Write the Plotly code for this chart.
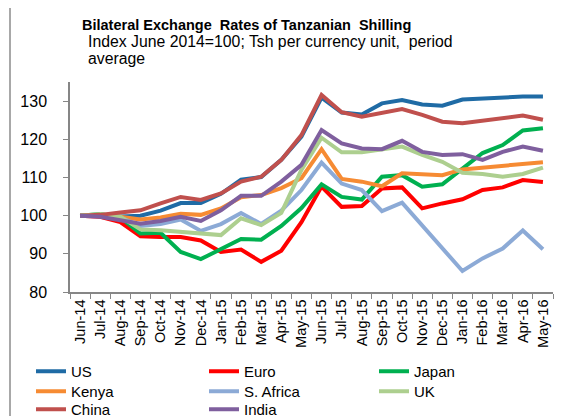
import plotly.graph_objects as go

months = ["Jun-14","Jul-14","Aug-14","Sep-14","Oct-14","Nov-14","Dec-14","Jan-15","Feb-15",
          "Mar-15","Apr-15","May-15","Jun-15","Jul-15","Aug-15","Sep-15","Oct-15","Nov-15",
          "Dec-15","Jan-16","Feb-16","Mar-16","Apr-16","May-16"]

us = [100, 99.9, 99.8, 100.0, 101.3, 103.3, 103.3, 105.7, 109.4, 110.1, 114.6, 120.7,
      130.9, 127.0, 126.5, 129.4, 130.3, 129.1, 128.8, 130.4, 130.7, 130.8, 131.2, 131.2]
euro = [100, 99.7, 98.3, 94.6, 94.4, 94.4, 93.5, 90.5, 91.1, 87.9, 90.8, 98.3,
        107.6, 102.3, 102.5, 107.1, 107.4, 101.9, 103.2, 104.3, 106.7, 107.4, 109.3, 108.8]
japan = [100, 100.4, 99.5, 95.3, 95.5, 90.5, 88.6, 91.3, 93.9, 93.7, 97.3, 102.0,
         108.2, 104.9, 104.2, 110.2, 110.6, 107.6, 108.2, 112.3, 116.4, 118.5, 122.3, 122.9]
kenya = [100, 100.1, 99.7, 99.0, 99.5, 100.5, 100.2, 101.9, 104.8, 105.4, 107.2, 109.8,
         117.4, 109.6, 108.9, 107.7, 111.1, 110.9, 110.6, 112.1, 112.6, 113.0, 113.7, 114.0]
safrica = [100, 99.9, 99.5, 97.3, 97.8, 99.0, 96.0, 97.8, 100.7, 97.8, 101.3, 106.7,
           113.9, 108.4, 106.7, 101.2, 103.4, 97.5, 91.6, 85.5, 88.8, 91.4, 96.1, 91.2]
uk = [100, 100.4, 99.7, 96.4, 96.2, 95.8, 95.3, 94.9, 99.3, 97.5, 100.7, 112.0,
      120.4, 116.6, 116.6, 117.4, 118.1, 115.9, 114.1, 111.2, 110.9, 110.2, 110.9, 112.6]
china = [100, 100.2, 100.8, 101.4, 103.2, 104.9, 104.1, 105.8, 108.9, 110.2, 114.6, 121.1,
         131.6, 127.1, 125.9, 126.8, 127.9, 126.4, 124.6, 124.2, 124.8, 125.5, 126.2, 125.1]
india = [100, 99.7, 98.8, 97.9, 98.6, 99.7, 98.6, 101.4, 105.2, 105.2, 108.9, 113.3,
         122.4, 118.9, 117.6, 117.4, 119.6, 116.7, 115.9, 116.1, 114.6, 116.7, 118.1, 117.0]

series_names = ["US", "Euro", "Japan", "Kenya", "S. Africa", "UK", "China", "India"]
series_values = [us, euro, japan, kenya, safrica, uk, china, india]
series_colors = ["#1F6BA5", "#FF0000", "#00B050", "#F68B33", "#8CAAD6", "#ADCF8F", "#C0504D", "#7F5F9E"]

y_ticks = [80, 90, 100, 110, 120, 130]

FONT = "Liberation Sans, Arial, sans-serif"

# the page body has an 8px margin; work in page pixels and convert
OFF = 8
W, H = 573 - OFF, 416 - OFF
PL, PR, PT, PB = 70, 553, 82, 292          # plot area in page pixels
L, T = PL - OFF, PT - OFF
R = W - (PR - OFF)
B = H - (PB - OFF)
pw, ph = W - L - R, H - T - B

def px(x):
    return (x - OFF - L) / pw

def py(y):
    return (H - B - (y - OFF)) / ph

# legend grid: 3 columns, 3 rows (page pixels of each legend box's top-left)
col_x = [31, 204, 374]
row_top = [355, 375, 393]

fig = go.Figure()
legend_layouts = {}
for i, (name, vals, col) in enumerate(zip(series_names, series_values, series_colors)):
    key = "legend" if i == 0 else f"legend{i + 1}"
    fig.add_trace(go.Scatter(x=months, y=vals, name=name, mode="lines", legend=key,
                             line=dict(color=col, width=4)))
    r, c = divmod(i, 3)
    legend_layouts[key] = dict(orientation="h", xref="container", yref="container",
                               x=(col_x[c] - OFF) / W, y=1 - (row_top[r] - OFF) / H,
                               xanchor="left", yanchor="top",
                               font=dict(size=15, family=FONT), itemwidth=30,
                               bgcolor="rgba(0,0,0,0)")

fig.update_layout(
    width=W, height=H,
    margin=dict(l=L, r=R, t=T, b=B, autoexpand=False),
    paper_bgcolor="white", plot_bgcolor="white",
    font=dict(family=FONT, color="#000000", size=14),
    showlegend=True,
    xaxis=dict(type="category", categoryorder="array", categoryarray=months,
               range=[-0.5, len(months) - 0.5], automargin=False,
               showline=True, linecolor="#868686", linewidth=1.5,
               ticks="outside", tickson="boundaries", ticklen=5, tickcolor="#868686",
               tickangle=-90, tickfont=dict(size=14.5, family=FONT),
               showgrid=False, zeroline=False),
    yaxis=dict(range=[80, 135], tickvals=y_ticks, ticktext=[str(v) for v in y_ticks],
               automargin=False,
               showline=True, linecolor="#868686", linewidth=1.5,
               ticks="outside", ticklen=5, tickcolor="#868686",
               tickfont=dict(size=16, family=FONT), ticklabelstandoff=13,
               showgrid=False, zeroline=False),
    shapes=[dict(type="rect", xref="paper", yref="paper",
                 x0=px(10), x1=px(700), y0=py(600), y1=py(7),
                 line=dict(color="#8C8C8C", width=1.5), fillcolor="rgba(0,0,0,0)", layer="below")],
    annotations=[
        dict(text="<b>Bilateral Exchange  Rates of Tanzanian  Shilling</b>", xref="paper", yref="paper",
             x=px(80), y=py(15), xanchor="left", yanchor="top", showarrow=False,
             font=dict(size=14.5, family=FONT)),
        dict(text="Index June 2014=100; Tsh per currency unit,\u00a0 period", xref="paper", yref="paper",
             x=px(86), y=py(31), xanchor="left", yanchor="top", showarrow=False,
             font=dict(size=15.8, family=FONT)),
        dict(text="average", xref="paper", yref="paper",
             x=px(86), y=py(48.5), xanchor="left", yanchor="top", showarrow=False,
             font=dict(size=15.8, family=FONT)),
    ],
)
fig.update_layout(**legend_layouts)

fig.write_html("out.html")
